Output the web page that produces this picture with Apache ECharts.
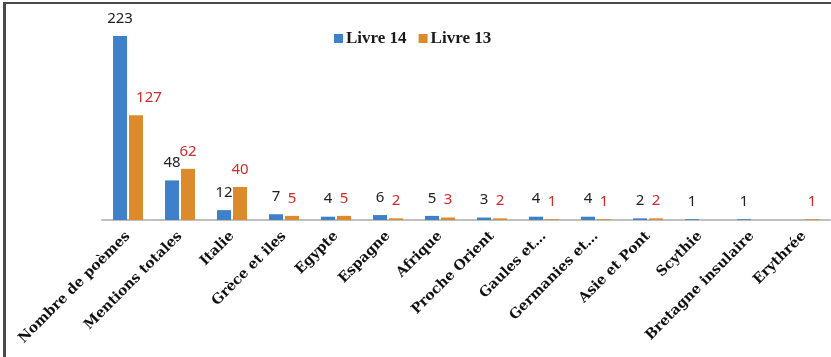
<!DOCTYPE html>
<html><head><meta charset="utf-8">
<script src="https://cdn.jsdelivr.net/npm/echarts@6/dist/echarts.min.js"></script>
<style>
html,body{margin:0;padding:0;background:#fff;}
#wrap{position:relative;width:831px;height:357px;overflow:hidden;}
#chart{position:absolute;left:0;top:0;width:831px;height:357px;}
#bt{position:absolute;left:3px;top:2px;width:828px;height:2px;background:#4a4a4a;}
#bl{position:absolute;left:3px;top:2px;width:3px;height:355px;background:#4a4a4a;}
</style></head>
<body><div id="wrap"><div id="chart"></div><div id="bt"></div><div id="bl"></div></div>
<script>
const categories = ['Nombre de poèmes','Mentions totales','Italie','Grèce et iles','Egypte','Espagne','Afrique','Proche Orient','Gaules et…','Germanies et…','Asie et Pont','Scythie','Bretagne insulaire','Erythrée'];
const livre14 = [223,48,12,7,4,6,5,3,4,4,2,1,1,null];
const livre13 = [127,62,40,5,5,2,3,2,1,1,2,null,null,1];
const seriesNames = ['Livre 14','Livre 13'];

const chart = echarts.init(document.getElementById('chart'));
const lblFont = {fontFamily:'Noto Sans', fontSize:15};
chart.setOption({
  animation:false,
  backgroundColor:'#fff',
  legend:{
    left:329, top:25, itemWidth:9, itemHeight:9, itemGap:12, icon:'rect',
    textStyle:{fontFamily:'Liberation Serif', fontWeight:'bold', fontSize:17, color:'#1a1a1a', padding:[0,0,0,-2]}
  },
  grid:{left:102, right:1, top:13.7, bottom:137},
  xAxis:{
    type:'category', data:categories,
    axisLine:{lineStyle:{color:'#bfbfbf', width:2}},
    axisTick:{show:false},
    axisLabel:{rotate:45, interval:0, margin:14, color:'#111', fontFamily:'DejaVu Serif', fontWeight:'bold', fontSize:14}
  },
  yAxis:{type:'value', min:0, max:250, show:false, splitLine:{show:false}},
  series:[
    {name:seriesNames[0], type:'bar', barWidth:14, barGap:'14%', itemStyle:{color:'#3f81c8'},
     data:livre14,
     label:{show:true, position:'top', distance:10, color:'#222', ...lblFont}},
    {name:seriesNames[1], type:'bar', barWidth:14, itemStyle:{color:'#dc8b2c'},
     data:livre13.map((v,i)=> i===0 ? {value:v, label:{offset:[13,0]}} : v),
     label:{show:true, position:'top', distance:10, color:'#d42a2a', ...lblFont}}
  ]
});
</script></body></html>
